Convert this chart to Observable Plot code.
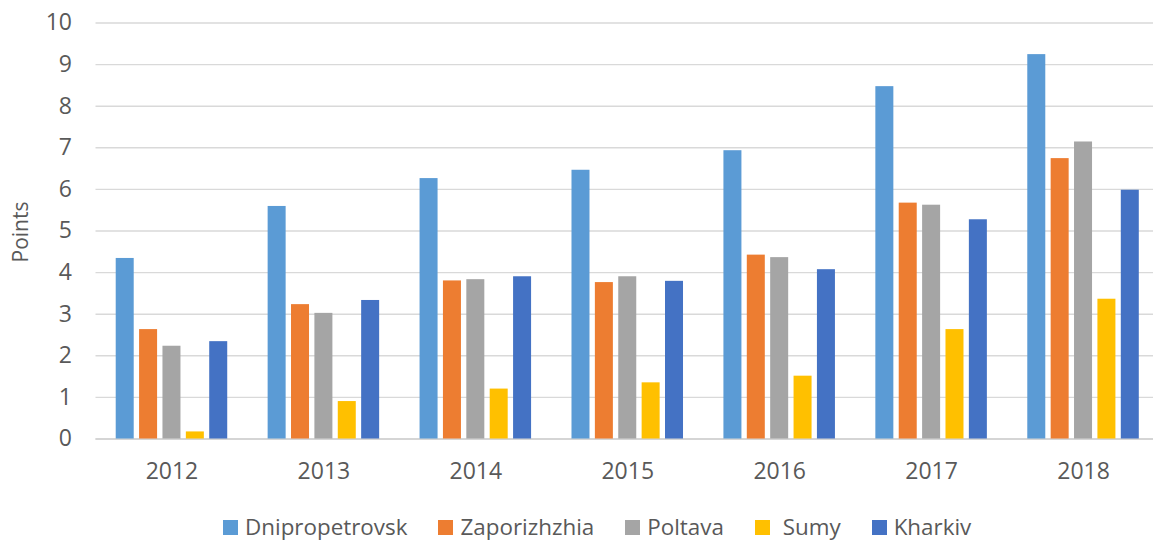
<!DOCTYPE html>
<html>
<head>
<meta charset="utf-8">
<script src="https://cdn.jsdelivr.net/npm/d3@7"></script>
<script src="https://cdn.jsdelivr.net/npm/@observablehq/plot@0.6"></script>
<style>
  html, body { margin: 0; padding: 0; background: #fff; overflow: hidden; }
  #wrap { position: relative; width: 1153px; height: 542px; overflow: hidden; font-family: "Open Sans", sans-serif; }
  #wrap svg { position: absolute; left: 0; top: 0; overflow: visible; max-width: none !important; }
  #ylabel { position: absolute; left: 20px; top: 232px; transform: translate(-50%, -50%) rotate(-90deg); font-size: 21px; color: #595959; white-space: nowrap; }
  #legend { position: absolute; top: 514px; left: 223px; width: 920px; height: 26px; display: flex; align-items: center; font-size: 22.4px; color: #595959; line-height: 26px; white-space: pre; }
  .item { display: flex; align-items: center; margin-right: 31px; }
  .sw { width: 15px; height: 15px; margin-right: 7px; flex: none; }
</style>
</head>
<body>
<div id="wrap"></div>
<script>
const years = ["2012", "2013", "2014", "2015", "2016", "2017", "2018"];
const regions = ["Dnipropetrovsk", "Zaporizhzhia", "Poltava", " Sumy", "Kharkiv"];
const colors = ["#5B9BD5", "#ED7D31", "#A5A5A5", "#FFC000", "#4472C4"];
const dnipropetrovsk = [4.34, 5.59, 6.26, 6.46, 6.93, 8.47, 9.24];
const zaporizhzhia   = [2.63, 3.23, 3.80, 3.76, 4.42, 5.67, 6.74];
const poltava        = [2.23, 3.02, 3.83, 3.90, 4.36, 5.62, 7.14];
const sumy           = [0.17, 0.90, 1.20, 1.35, 1.51, 2.63, 3.36];
const kharkiv        = [2.34, 3.33, 3.90, 3.79, 4.07, 5.27, 5.98];
const yTicks = [0, 1, 2, 3, 4, 5, 6, 7, 8, 9, 10];
const yLabel = "Points";

const series = [dnipropetrovsk, zaporizhzhia, poltava, sumy, kharkiv];
const data = [];
years.forEach((yr, i) => regions.forEach((r, j) => data.push({year: yr, region: r, value: series[j][i]})));

const W = 1159, H = 500, ML = 95.5, MR = 0, MT = 22.5, MB = 61.5;
const font = {fontFamily: "'Open Sans', sans-serif", fontSize: "23px", color: "#595959", background: "transparent", maxWidth: "none"};

const back = Plot.plot({
  width: W, height: H, marginLeft: ML, marginRight: MR, marginTop: MT, marginBottom: MB,
  style: font,
  y: {domain: [0, 10]},
  marks: [
    Plot.gridY(yTicks, {stroke: "#d9d9d9", strokeOpacity: 1, strokeWidth: 1.4}),
    Plot.axisY(yTicks, {tickSize: 0, tickPadding: 24, label: null, fill: "#595959", fontSize: 23}),
    Plot.ruleY([0], {stroke: "#d0d0d0", strokeWidth: 1.4})
  ]
});

const front = Plot.plot({
  width: W, height: H, marginLeft: ML, marginRight: MR, marginTop: MT, marginBottom: MB,
  style: font,
  y: {domain: [0, 10], axis: null},
  x: {domain: regions, paddingInner: 0.23, paddingOuter: 0, round: false, axis: null},
  fx: {domain: years, paddingInner: 0.266, paddingOuter: 0.133, round: false, label: null},
  color: {domain: regions, range: colors},
  marks: [
    Plot.barY(data, {fx: "year", x: "region", y: "value", fill: "region"}),
    Plot.axisFx({anchor: "bottom", tickSize: 0, tickPadding: 24, label: null, fill: "#595959", fontSize: 23})
  ]
});

const wrap = document.getElementById("wrap");
wrap.appendChild(back);
wrap.appendChild(front);

const yl = document.createElement("div");
yl.id = "ylabel";
yl.textContent = yLabel;
wrap.appendChild(yl);

const legend = document.createElement("div");
legend.id = "legend";
regions.forEach((r, i) => {
  const it = document.createElement("div");
  it.className = "item";
  const sw = document.createElement("div");
  sw.className = "sw";
  sw.style.background = colors[i];
  const tx = document.createElement("span");
  tx.textContent = r;
  it.appendChild(sw);
  it.appendChild(tx);
  legend.appendChild(it);
});
wrap.appendChild(legend);
</script>
</body>
</html>
